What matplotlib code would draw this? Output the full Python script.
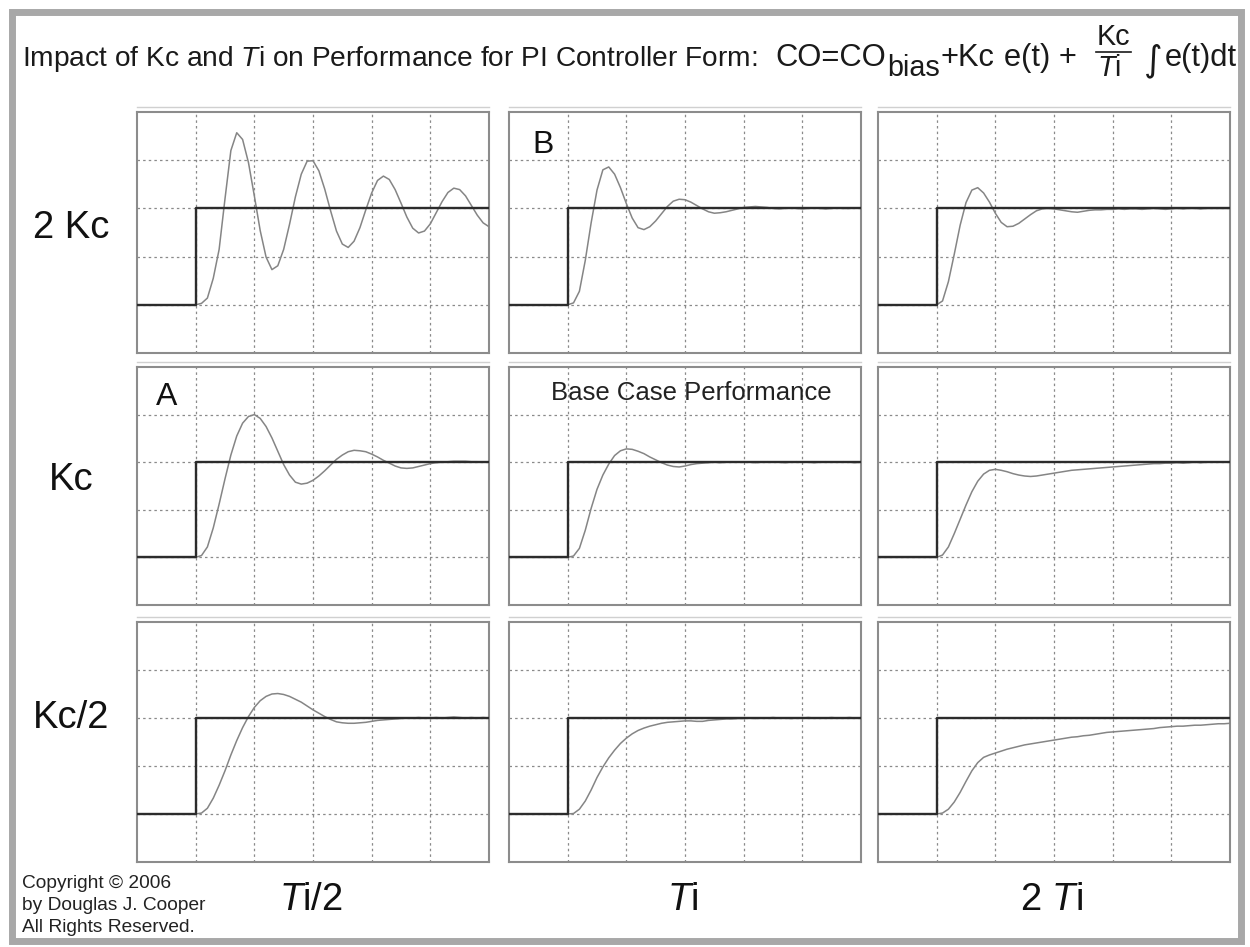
import matplotlib
matplotlib.use('Agg')
import matplotlib.pyplot as plt
from matplotlib.patches import Rectangle
from matplotlib.lines import Line2D

plt.rcParams['font.family'] = ['Liberation Sans', 'DejaVu Sans']
plt.rcParams['mathtext.fontset'] = 'custom'
plt.rcParams['mathtext.rm'] = 'Liberation Sans'
plt.rcParams['mathtext.it'] = 'Liberation Sans:italic'
plt.rcParams['mathtext.bf'] = 'Liberation Sans:bold'

# ---------------- data ----------------
time = [0.0,
        1.0, 1.1, 1.2, 1.3, 1.4, 1.5, 1.6, 1.7, 1.8, 1.9,
        2.0, 2.1, 2.2, 2.3, 2.4, 2.5, 2.6, 2.7, 2.8, 2.9,
        3.0, 3.1, 3.2, 3.3, 3.4, 3.5, 3.6, 3.7, 3.8, 3.9,
        4.0, 4.1, 4.2, 4.3, 4.4, 4.5, 4.6, 4.7, 4.8, 4.9,
        5.0, 5.1, 5.2, 5.3, 5.4, 5.5, 5.6, 5.7, 5.8, 5.9,
        6.0]

setpoint_time = [0.0, 1.0, 1.0, 6.0]
setpoint_value = [1.0, 1.0, 3.0, 3.0]

pv_2kc_ti_half = [1.0,
    1.00, 1.03, 1.14, 1.55, 2.15, 3.20, 4.20, 4.57, 4.43, 3.95,
    3.26, 2.54, 1.99, 1.73, 1.81, 2.15, 2.67, 3.24, 3.71, 3.98,
    3.99, 3.78, 3.40, 2.95, 2.53, 2.26, 2.19, 2.32, 2.60, 2.97,
    3.32, 3.58, 3.67, 3.60, 3.39, 3.11, 2.82, 2.59, 2.49, 2.53,
    2.68, 2.91, 3.14, 3.33, 3.42, 3.39, 3.26, 3.06, 2.86, 2.70,
    2.62]
pv_2kc_ti = [1.0,
    1.00, 1.04, 1.28, 1.92, 2.70, 3.38, 3.80, 3.86, 3.71, 3.43,
    3.10, 2.80, 2.60, 2.56, 2.62, 2.74, 2.89, 3.04, 3.15, 3.19,
    3.18, 3.13, 3.06, 2.99, 2.93, 2.90, 2.91, 2.93, 2.96, 2.99,
    3.02, 3.03, 3.04, 3.03, 3.02, 3.00, 2.99, 3.00, 3.01, 3.00,
    2.99, 3.00, 3.01, 3.00, 2.99, 3.00, 3.01, 3.00, 3.00, 3.01,
    3.00]
pv_2kc_2ti = [1.0,
    1.00, 1.08, 1.48, 2.05, 2.65, 3.12, 3.38, 3.43, 3.32, 3.13,
    2.90, 2.71, 2.62, 2.63, 2.69, 2.78, 2.87, 2.95, 2.99, 3.00,
    2.99, 2.97, 2.95, 2.93, 2.92, 2.94, 2.96, 2.97, 2.97, 2.98,
    2.98, 2.99, 2.98, 2.99, 2.99, 2.98, 2.99, 3.00, 2.99, 2.98,
    2.99, 3.00, 2.99, 3.00, 3.00, 2.99, 3.00, 3.00, 3.00, 3.00,
    3.00]
pv_kc_ti_half = [1.0,
    1.00, 1.04, 1.22, 1.62, 2.12, 2.65, 3.15, 3.55, 3.82, 3.96,
    4.00, 3.92, 3.75, 3.51, 3.23, 2.95, 2.73, 2.58, 2.54, 2.56,
    2.62, 2.71, 2.82, 2.94, 3.06, 3.15, 3.22, 3.25, 3.24, 3.22,
    3.17, 3.11, 3.04, 2.98, 2.92, 2.88, 2.87, 2.88, 2.91, 2.94,
    2.97, 2.99, 3.00, 3.01, 3.02, 3.02, 3.02, 3.01, 3.01, 3.00,
    3.00]
pv_kc_ti = [1.0,
    1.00, 1.03, 1.19, 1.57, 2.03, 2.43, 2.73, 2.96, 3.14, 3.24,
    3.28, 3.27, 3.23, 3.18, 3.11, 3.05, 2.99, 2.94, 2.91, 2.90,
    2.92, 2.95, 2.97, 2.98, 2.99, 3.00, 2.99, 3.00, 3.01, 3.00,
    3.01, 3.00, 2.99, 3.00, 3.01, 3.00, 3.00, 2.99, 3.00, 3.01,
    3.00, 3.00, 2.99, 3.00, 3.01, 3.00, 3.00, 3.01, 3.00, 2.99,
    3.00]
pv_kc_2ti = [1.0,
    1.00, 1.05, 1.22, 1.50, 1.80, 2.10, 2.38, 2.60, 2.75, 2.83,
    2.85, 2.83, 2.80, 2.76, 2.73, 2.71, 2.70, 2.71, 2.73, 2.75,
    2.77, 2.79, 2.81, 2.83, 2.84, 2.85, 2.86, 2.87, 2.88, 2.89,
    2.90, 2.91, 2.92, 2.93, 2.94, 2.95, 2.96, 2.97, 2.97, 2.98,
    2.98, 2.99, 2.98, 2.99, 3.00, 2.99, 3.00, 3.00, 3.00, 3.00,
    3.00]
pv_kc_half_ti_half = [1.0,
    1.00, 1.02, 1.12, 1.33, 1.60, 1.90, 2.23, 2.53, 2.80, 3.03,
    3.22, 3.36, 3.45, 3.50, 3.51, 3.49, 3.45, 3.39, 3.33, 3.25,
    3.17, 3.10, 3.03, 2.97, 2.92, 2.90, 2.89, 2.89, 2.90, 2.91,
    2.93, 2.95, 2.96, 2.97, 2.98, 2.99, 3.00, 3.00, 3.01, 3.00,
    3.00, 3.01, 3.00, 3.01, 3.02, 3.01, 3.00, 3.01, 3.00, 3.01,
    3.00]
pv_kc_half_ti = [1.0,
    1.00, 1.01, 1.10, 1.27, 1.50, 1.76, 1.98, 2.17, 2.33, 2.47,
    2.58, 2.67, 2.74, 2.79, 2.83, 2.86, 2.89, 2.91, 2.92, 2.93,
    2.94, 2.94, 2.93, 2.93, 2.95, 2.96, 2.97, 2.98, 2.98, 2.99,
    2.99, 3.00, 2.99, 3.00, 3.00, 3.01, 3.00, 3.00, 2.99, 3.00,
    3.00, 3.01, 3.00, 3.00, 3.00, 3.01, 3.00, 3.00, 3.01, 3.00,
    3.00]
pv_kc_half_2ti = [1.0,
    1.00, 1.02, 1.10, 1.25, 1.45, 1.68, 1.90, 2.07, 2.18, 2.23,
    2.27, 2.31, 2.35, 2.38, 2.41, 2.44, 2.46, 2.48, 2.50, 2.52,
    2.54, 2.56, 2.58, 2.60, 2.61, 2.63, 2.64, 2.66, 2.68, 2.70,
    2.71, 2.72, 2.73, 2.74, 2.75, 2.76, 2.77, 2.78, 2.80, 2.81,
    2.82, 2.83, 2.83, 2.84, 2.85, 2.85, 2.86, 2.87, 2.88, 2.88,
    2.89]

responses = [
    [pv_2kc_ti_half, pv_2kc_ti, pv_2kc_2ti],
    [pv_kc_ti_half, pv_kc_ti, pv_kc_2ti],
    [pv_kc_half_ti_half, pv_kc_half_ti, pv_kc_half_2ti],
]
row_labels = ["2 Kc", "Kc", "Kc/2"]
col_labels = [r"$\mathit{T}$i/2", r"$\mathit{T}$i", r"2 $\mathit{T}$i"]
copyright_lines = ["Copyright \u00a9 2006", "by Douglas J. Cooper", "All Rights Reserved."]
title_text = r"Impact of Kc and $\mathit{T}$i on Performance for PI Controller Form:"

# ---------------- layout ----------------
W, H = 1250, 947
fig = plt.figure(figsize=(W / 100, H / 100), dpi=100)
fig.patch.set_facecolor('white')
renderer = fig.canvas.get_renderer()

def fx(x):
    return x / W

def fy(y):
    return 1 - y / H

def put(x, y, s, **kw):
    t = fig.text(fx(x), fy(y), s, **kw)
    bb = t.get_window_extent(renderer)
    return t, bb

col_px = [(137, 489), (509, 861), (878, 1230)]
row_px = [(112, 353), (367, 605), (622, 862)]

# outer frame
fig.patches.append(Rectangle((fx(12), fy(941)), fx(1241) - fx(12), fy(12) - fy(941),
                             transform=fig.transFigure, fill=False,
                             edgecolor='#a8a8a8', lw=5, zorder=0))

for r, (top, bot) in enumerate(row_px):
    for c, (left, right) in enumerate(col_px):
        ax = fig.add_axes([fx(left), fy(bot), fx(right) - fx(left), fy(top) - fy(bot)])
        ax.set_xlim(0, 6)
        ax.set_ylim(0, 5)
        ax.set_xticks([1, 2, 3, 4, 5])
        ax.set_yticks([1, 2, 3, 4])
        ax.tick_params(length=0, labelleft=False, labelbottom=False)
        ax.grid(True, ls=(0, (2, 2.5)), color='#8a8a8a', lw=0.9)
        for s in ax.spines.values():
            s.set_color('#8c8c8c')
            s.set_linewidth(1.5)
        ax.plot(time, responses[r][c], color='#858585', lw=1.1, zorder=3)
        ax.plot(setpoint_time, setpoint_value, color='#2c2c2c', lw=1.7, zorder=4)
        fig.add_artist(Line2D([fx(left), fx(right)], [fy(top - 5), fy(top - 5)],
                              color='#d0d0d0', lw=1))

# ---------------- title ----------------
TC = '#1a1a1a'
base = 66
t0, bb = put(22, base, title_text, ha='left', va='baseline', fontsize=20, color=TC)
fs = 20 * (757 - 22) / bb.width
t0.set_fontsize(fs)


def build_formula(f, gap):
    arts = []
    x = 775
    t, bb = put(x, base, "CO=CO", ha='left', va='baseline', fontsize=f, color=TC)
    arts.append(t); x = bb.x1 + 1
    t, bb = put(x, base + 10, "bias", ha='left', va='baseline', fontsize=f * 0.93, color=TC)
    arts.append(t); x = bb.x1 + 1
    t, bb = put(x, base, "+Kc", ha='left', va='baseline', fontsize=f, color=TC)
    arts.append(t); x = bb.x1 + gap
    t, bb = put(x, base, "e(t) + ", ha='left', va='baseline', fontsize=f, color=TC)
    arts.append(t); x = bb.x1 + 2 + gap
    tn, bbn = put(x, base - 21, "Kc", ha='left', va='baseline', fontsize=f * 0.93, color=TC)
    td, bbd = put(x, base + 10, r"$\mathit{T}$i", ha='left', va='baseline', fontsize=f * 0.93, color=TC)
    arts += [tn, td]
    fw = max(bbn.width, bbd.width)
    ln = Line2D([fx(x - 1), fx(x + fw + 1)], [fy(base - 14), fy(base - 14)], color=TC, lw=1.2)
    fig.add_artist(ln)
    arts.append(ln)
    x = x + fw + 5 + gap
    t, bb = put(x, base + 4, "\u222b", ha='left', va='baseline', fontsize=f * 1.15, color=TC,
                family=['DejaVu Sans'])
    arts.append(t); x = bb.x1 + 2
    t, bb = put(x, base, "e(t)dt", ha='left', va='baseline', fontsize=f, color=TC)
    arts.append(t)
    return arts, bb.x1


ff = fs * 1.1
arts, xend = build_formula(ff, 4)
for a in arts:
    a.remove()
gap = 4 + (1237 - xend) / 3
arts, xend = build_formula(ff, gap)

# row labels
for lab, yc in zip(row_labels, [228, 480, 718]):
    fig.text(fx(71), fy(yc), lab, ha='center', va='center', fontsize=27.5, color='#111111')

# column labels
for lab, (left, right) in zip(col_labels, col_px):
    fig.text(fx((left + right) / 2 - 2), fy(900), lab, ha='center', va='center',
             fontsize=27.5, color='#111111')

# copyright
for i, line in enumerate(copyright_lines):
    fig.text(fx(22), fy(883 + 22 * i), line, ha='left', va='center', fontsize=13.8, color='#222222')

# annotations
fig.text(fx(167), fy(397), "A", ha='center', va='center', fontsize=23, color='#111111')
fig.text(fx(543), fy(145), "B", ha='center', va='center', fontsize=23, color='#111111')
fig.text(fx(691), fy(393), "Base Case Performance", ha='center', va='center',
         fontsize=18.5, color='#222222')

fig.savefig('out.png', dpi=100)
